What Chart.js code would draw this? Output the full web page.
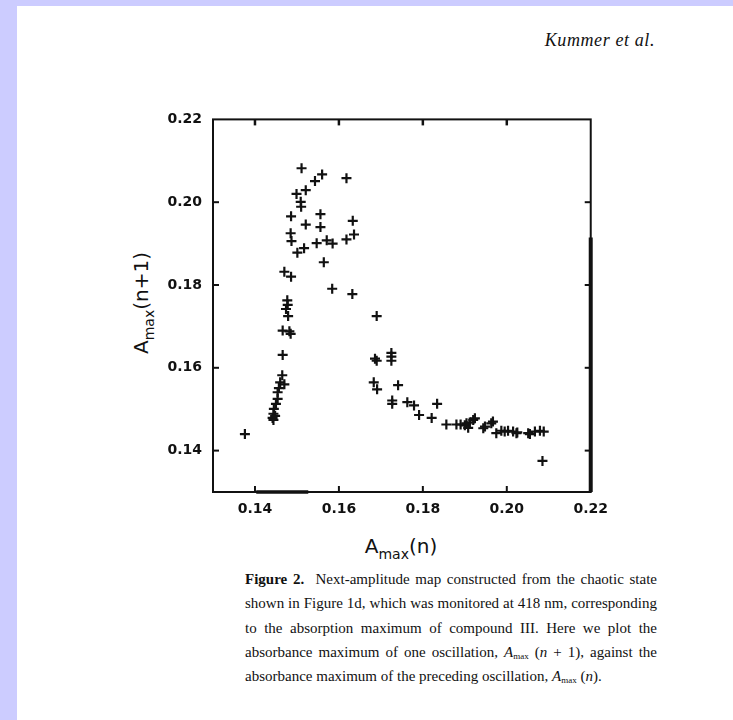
<!DOCTYPE html>
<html>
<head>
<meta charset="utf-8">
<script src="https://cdn.jsdelivr.net/npm/chart.js@4.4.0/dist/chart.umd.min.js"></script>
<style>
  html, body { margin: 0; padding: 0; }
  body { width: 733px; height: 720px; background: #ccccff; position: relative; overflow: hidden; }
  #page { position: absolute; left: 17px; top: 6px; right: 0; bottom: 0; background: #fff; }
  .abs { position: absolute; color: #111; white-space: nowrap; }
  #author { right: 78px; top: 30px; font: italic 18px "Liberation Serif", serif; letter-spacing: 0.6px; }
  .axtitle { font: 20px "DejaVu Sans", sans-serif; }
  .axtitle .sub { font-size: 14px; position: relative; top: 6px; }
  #ytitle { left: 141px; top: 303px; transform: translate(-50%, -50%) rotate(-90deg); }
  #xtitle { left: 401px; top: 546px; transform: translate(-50%, -50%); }
  #caption { left: 245px; top: 567px; width: 412px; font: 15px "Liberation Serif", serif; line-height: 24.3px; white-space: normal; }
  #caption div { height: 24.3px; }
  #caption .j { text-align: justify; text-align-last: justify; }
  #caption .s { font-size: 9px; vertical-align: baseline; position: relative; top: 2px; line-height: 0; }
  #chartBox { position: absolute; left: 150px; top: 100px; width: 467px; height: 430px; }
</style>
</head>
<body>
<div id="page"></div>
<div id="author" class="abs">Kummer et al.</div>
<div id="ytitle" class="abs axtitle">A<span class="sub">max</span>(n+1)</div>
<div id="xtitle" class="abs axtitle">A<span class="sub">max</span>(n)</div>
<div id="chartBox"><canvas id="mapChart"></canvas></div>
<div id="caption" class="abs">
  <div class="j"><b>Figure 2.</b>&nbsp; Next-amplitude map constructed from the chaotic state</div>
  <div class="j">shown in Figure 1d, which was monitored at 418 nm, corresponding</div>
  <div class="j">to the absorption maximum of compound III. Here we plot the</div>
  <div class="j">absorbance maximum of one oscillation, <i>A</i><span class="s">max</span> (<i>n</i> + 1), against the</div>
  <div>absorbance maximum of the preceding oscillation, <i>A</i><span class="s">max</span> (<i>n</i>).</div>
</div>
<script>
// next-amplitude map: A_max(n) on x, A_max(n+1) on y
const ampN = [
  0.1511, 0.1560, 0.1543, 0.1618, 0.1499, 0.1521, 0.1509, 0.1510, 0.1486, 0.1556,
  0.1521, 0.1556, 0.1633, 0.1485, 0.1487, 0.1547, 0.1571, 0.1585, 0.1636, 0.1618,
  0.1517, 0.1501, 0.1564, 0.1470, 0.1486, 0.1584, 0.1632, 0.1477, 0.1474, 0.1479,
  0.1466, 0.1482, 0.1485, 0.1466, 0.1465, 0.1460, 0.1457, 0.1454, 0.1454, 0.1450,
  0.1445, 0.1444, 0.1442, 0.1444, 0.1448, 0.1376, 0.1690, 0.1690, 0.1686, 0.1725,
  0.1725, 0.1725, 0.1683, 0.1691, 0.1741, 0.1727, 0.1727, 0.1763, 0.1779, 0.1834,
  0.1791, 0.1821, 0.1856, 0.1880, 0.1890, 0.1900, 0.1908, 0.1904, 0.1920, 0.1924,
  0.1912, 0.1944, 0.1963, 0.1967, 0.1975, 0.1987, 0.1995, 0.2003, 0.2015, 0.2023,
  0.2025, 0.2051, 0.2055, 0.2067, 0.2079, 0.2088, 0.2085, 0.1948, 0.1470, 0.1478
];
const ampNext = [
  0.2082, 0.2067, 0.2051, 0.2058, 0.2020, 0.2029, 0.2001, 0.1989, 0.1966, 0.1971,
  0.1946, 0.1940, 0.1955, 0.1925, 0.1906, 0.1901, 0.1908, 0.1900, 0.1922, 0.1910,
  0.1889, 0.1878, 0.1855, 0.1832, 0.1820, 0.1791, 0.1778, 0.1763, 0.1742, 0.1725,
  0.1690, 0.1688, 0.1682, 0.1631, 0.1582, 0.1565, 0.1551, 0.1541, 0.1525, 0.1513,
  0.1501, 0.1489, 0.1479, 0.1474, 0.1484, 0.1440, 0.1725, 0.1617, 0.1622, 0.1636,
  0.1617, 0.1627, 0.1565, 0.1548, 0.1558, 0.1521, 0.1513, 0.1517, 0.1509, 0.1513,
  0.1486, 0.1479, 0.1463, 0.1463, 0.1463, 0.1461, 0.1455, 0.1466, 0.1474, 0.1478,
  0.1468, 0.1454, 0.1466, 0.1470, 0.1442, 0.1448, 0.1446, 0.1448, 0.1446, 0.1442,
  0.1444, 0.1442, 0.1440, 0.1446, 0.1448, 0.1446, 0.1375, 0.1458, 0.1560, 0.1752
];
const xTicks = [0.14, 0.16, 0.18, 0.20, 0.22];
const yTicks = [0.14, 0.16, 0.18, 0.20, 0.22];
const axisMin = 0.13, axisMax = 0.22;

const ink = "#111";
const tickFont = { family: "DejaVu Sans", size: 14, weight: "bold" };

// box frame with inward tick marks (plus the scanned page's heavy edge strokes)
const framePlugin = {
  id: "frame",
  afterDraw(chart) {
    const { ctx, chartArea: a, scales: { x, y } } = chart;
    const seg = (x1, y1, x2, y2, w) => {
      ctx.lineWidth = w;
      ctx.beginPath(); ctx.moveTo(x1, y1); ctx.lineTo(x2, y2); ctx.stroke();
    };
    ctx.save();
    ctx.strokeStyle = ink;
    ctx.lineWidth = 2;
    ctx.strokeRect(a.left, a.top, a.right - a.left, a.bottom - a.top);
    xTicks.slice(0, -1).forEach(v => {
      const px = x.getPixelForValue(v);
      seg(px, a.top, px, a.top + 6, 2.5);
      seg(px, a.bottom, px, a.bottom - 6, 2);
    });
    yTicks.slice(0, -1).forEach(v => {
      const py = y.getPixelForValue(v);
      seg(a.left, py, a.left + 6, py, 2);
      seg(a.right, py, a.right - 6, py, 2);
    });
    seg(a.right, y.getPixelForValue(0.1915), a.right, a.bottom, 4);
    seg(x.getPixelForValue(0.1403), a.bottom, x.getPixelForValue(0.1527), a.bottom, 3.5);
    ctx.restore();
  }
};

const ctx = document.getElementById("mapChart").getContext("2d");
new Chart(ctx, {
  type: "scatter",
  data: {
    datasets: [{
      data: ampN.map((v, i) => ({ x: v, y: ampNext[i] })),
      pointStyle: "cross",
      pointRadius: 5,
      pointHoverRadius: 5,
      pointBorderWidth: 2.2,
      borderColor: ink,
      backgroundColor: ink
    }]
  },
  options: {
    responsive: true,
    maintainAspectRatio: false,
    animation: false,
    layout: { padding: { left: 13, top: 13, right: 25, bottom: 8 } },
    plugins: { legend: { display: false }, tooltip: { enabled: false } },
    scales: {
      x: {
        type: "linear",
        min: axisMin,
        max: axisMax,
        afterBuildTicks: s => { s.ticks = xTicks.map(v => ({ value: v })); },
        afterFit: s => { s.height = 30; },
        grid: { display: false, drawTicks: false },
        border: { display: false },
        ticks: { font: tickFont, color: ink, padding: 9, maxRotation: 0, autoSkip: false, callback: v => v.toFixed(2) }
      },
      y: {
        type: "linear",
        min: axisMin,
        max: axisMax,
        afterBuildTicks: s => { s.ticks = yTicks.map(v => ({ value: v })); },
        afterFit: s => { s.width = 50; },
        grid: { display: false, drawTicks: false },
        border: { display: false },
        ticks: { font: tickFont, color: ink, padding: 11, autoSkip: false, callback: v => v.toFixed(2) }
      }
    }
  },
  plugins: [framePlugin]
});
</script>
</body>
</html>
